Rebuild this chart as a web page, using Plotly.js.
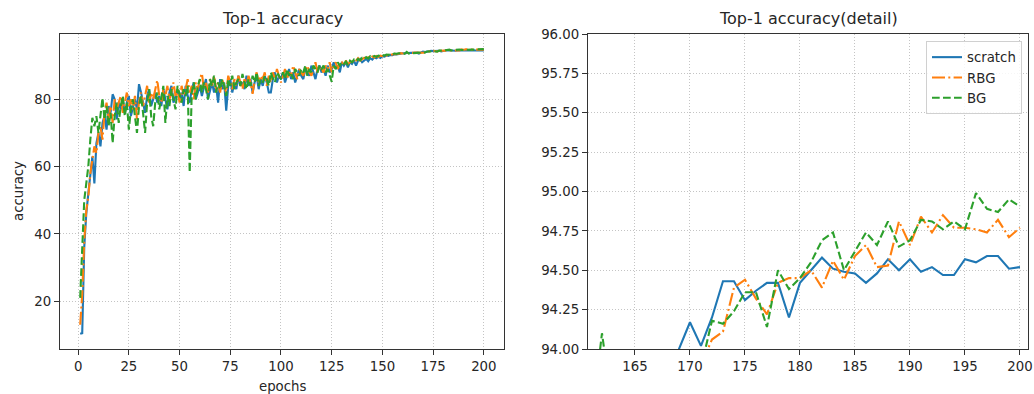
<!DOCTYPE html>
<html>
<head>
<meta charset="utf-8">
<script src="https://cdn.plot.ly/plotly-3.0.1.min.js"></script>
<style>html,body{margin:0;padding:0;background:#fff;}#chart{width:1034px;height:394px;}</style>
</head>
<body>
<div id="chart"></div>
<script>
// epochs 1..200
const epochs = Array.from({length: 200}, (_, i) => i + 1);

const scratch = [
  10.3, 10.5, 36, 46, 52, 58, 63, 55, 67, 70,
  66, 73, 75, 71, 78, 76, 81.5, 80, 74, 79,
  77, 80, 76, 79, 81, 75, 78, 80, 77, 84.5,
  82, 79, 76, 81, 83, 78, 80, 82, 79, 81,
  78, 83, 80, 77, 82, 84, 79, 81, 83, 80,
  82, 78, 84, 81, 79, 83, 85, 80, 82, 84,
  81, 84, 86, 80, 83, 85, 82, 84, 79, 86,
  83, 85, 76.6, 84, 86, 82, 85, 83, 87, 84,
  85, 83, 87, 84, 86, 82, 85, 87, 83, 86,
  84, 87, 85, 82, 82, 86, 88, 85, 87, 86,
  88, 85, 87, 89, 86, 88, 85, 87, 89, 87,
  86, 89, 88, 87, 90, 88, 86, 89, 90, 88,
  89, 87, 90, 88, 89, 91, 89, 90, 88, 91,
  90, 91, 89.5, 91, 90.5, 91.5, 90, 91.5, 92, 91,
  91.5, 92, 91.3, 92.2, 91.8, 92.5, 92.2, 92.6, 92.3, 92.8,
  92.7, 93, 92.9, 93.2, 93.1, 93.4, 93.3, 93.5, 93.5, 93.7,
  93.7, 93.8, 93.75, 93.85, 93.8, 93.9, 93.85, 93.6, 94.0, 94.17,
  94.02, 94.2, 94.43, 94.43, 94.31, 94.37, 94.42, 94.42, 94.2, 94.42,
  94.5, 94.58, 94.51, 94.49, 94.48, 94.42, 94.48, 94.57, 94.5, 94.57,
  94.49, 94.52, 94.47, 94.47, 94.57, 94.55, 94.59, 94.59, 94.51, 94.52
];

const rbg = [
  13, 22, 38, 47, 51, 58, 62, 66, 64, 70,
  72, 68, 76, 79, 74, 78, 73, 80, 77, 79,
  81, 76, 79, 82, 78, 80, 77, 81, 74, 79,
  82, 78, 81, 84, 79, 82, 80, 83, 85.7, 81,
  79, 83, 81, 84, 80, 82, 85, 81, 83, 79,
  84, 81, 83, 86, 82, 84, 80, 85, 83, 86,
  87.7, 83, 85, 82, 86, 84, 87, 83, 85, 82,
  86, 84, 82, 87, 85, 83, 86, 84, 87, 85,
  83, 86, 84, 87, 85, 81.6, 86, 88, 85, 87,
  86, 88, 84, 87, 85, 88, 86, 89, 87, 85,
  87, 89, 86, 88, 87, 90, 88, 86, 89, 88,
  87, 89, 90, 88, 87, 89, 91, 88, 90, 89,
  88, 90, 89, 91, 88, 90, 91, 89, 90.5, 91,
  90, 91.5, 90.5, 91, 92, 90.8, 91.6, 92.2, 91.5, 92,
  92.3, 91.8, 92.5, 92.2, 92.7, 92.4, 92.9, 92.6, 93, 92.8,
  93.1, 93, 93.3, 93.2, 93.4, 93.5, 93.4, 93.6, 93.7, 93.6,
  93.8, 93.75, 93.7, 93.85, 93.8, 93.9, 93.85, 93.8, 93.9, 93.85,
  93.9, 94.06, 94.11, 94.39, 94.44, 94.32, 94.22, 94.42, 94.45, 94.45,
  94.5, 94.39, 94.56, 94.44, 94.59, 94.66, 94.52, 94.53, 94.81, 94.66,
  94.84, 94.74, 94.85, 94.77, 94.77, 94.76, 94.74, 94.82, 94.71, 94.77
];

const bg = [
  21, 35, 50, 55, 60, 68, 74.5, 72, 75, 70,
  76, 80.4, 74, 78, 72, 76, 67, 75, 79, 73,
  78, 81, 75, 79, 71, 77, 80, 74, 70, 78,
  81, 76, 70, 79, 83, 75, 72, 79, 82, 77,
  80, 84, 73, 81, 78, 83, 80, 77, 84, 81,
  79, 83, 81, 84, 58.3, 82, 85, 80, 84, 86,
  82, 85, 83, 80, 86, 84, 87, 82, 85, 83,
  86, 84, 81, 86, 84, 87, 83, 85, 86, 84,
  87.5, 85, 83, 86, 84, 87, 85, 88, 84, 86,
  85, 87, 86, 84, 88, 86, 85, 88, 87, 86,
  88, 86, 89, 87, 88, 86, 89, 88, 87, 89,
  88, 90, 87, 89, 88, 90, 89, 88, 90, 89,
  90, 88, 89, 87, 85.2, 90, 89, 91, 90, 91,
  90.5, 91.2, 90.2, 91.5, 91, 91.8, 91.3, 92, 91.6, 92.3,
  91.9, 92.5, 92.1, 92.8, 92.4, 92.9, 92.6, 93, 92.8, 93.2,
  93, 93.3, 93.2, 93.5, 93.4, 93.6, 93.5, 93.7, 93.8, 93.7,
  93.5, 94.1, 93.6, 93.8, 93.7, 93.85, 93.8, 93.9, 93.75, 93.85,
  93.88, 94.18, 94.16, 94.24, 94.36, 94.36, 94.14, 94.5, 94.38, 94.45,
  94.55, 94.69, 94.74, 94.5, 94.62, 94.74, 94.66, 94.81, 94.65, 94.69,
  94.82, 94.81, 94.76, 94.81, 94.76, 94.99, 94.89, 94.87, 94.95, 94.905
];

const seriesNames = ["scratch", "RBG", "BG"];
const seriesData = [scratch, rbg, bg];
const seriesColors = ["#1f77b4", "#ff7f0e", "#2ca02c"];
const seriesDash = ["solid", "13px,3.3px,2px,3.3px", "7.7px,3.3px"];

const traces = [];
for (let s = 0; s < 3; s++) {
  for (let p = 0; p < 2; p++) {
    traces.push({
      x: epochs, y: seriesData[s], type: "scatter", mode: "lines",
      name: seriesNames[s], legendgroup: seriesNames[s],
      showlegend: p === 1,
      xaxis: p === 0 ? "x" : "x2", yaxis: p === 0 ? "y" : "y2",
      line: {color: seriesColors[s], width: 2.1, dash: seriesDash[s]},
      hoverinfo: "skip"
    });
  }
}

const W = 1034, H = 394;
const font = {family: "DejaVu Sans, sans-serif", size: 13.3, color: "#262626"};
const axisCommon = {
  showline: true, mirror: true, linecolor: "#333", linewidth: 1.1,
  ticks: "outside", ticklen: 5, tickwidth: 1, tickcolor: "#333",
  showgrid: true, gridcolor: "#c4c4c4", gridwidth: 1, griddash: "1px,2px",
  zeroline: false, tickfont: font
};

const yTop = 1 - 34 / H, yBot = 1 - 349 / H;

const layout = {
  width: W, height: H,
  margin: {l: 0, r: 0, t: 0, b: 0},
  paper_bgcolor: "#fff", plot_bgcolor: "#fff",
  font: font,
  showlegend: true,
  legend: {
    x: 1022 / W, xanchor: "right", y: 1 - 41 / H, yanchor: "top",
    bgcolor: "rgba(255,255,255,0.85)", bordercolor: "#d0d0d0", borderwidth: 1,
    font: font, itemwidth: 30, tracegroupgap: 0
  },
  xaxis: Object.assign({}, axisCommon, {domain: [60 / W, 504 / W], range: [-8.95, 209.95], dtick: 25, tick0: 0, anchor: "y"}),
  yaxis: Object.assign({}, axisCommon, {domain: [yBot, yTop], range: [5.8, 99.4], dtick: 20, tick0: 0, anchor: "x"}),
  xaxis2: Object.assign({}, axisCommon, {domain: [588 / W, 1028 / W], range: [160.73, 200.73], dtick: 5, tick0: 0, anchor: "y2"}),
  yaxis2: Object.assign({}, axisCommon, {domain: [yBot, yTop], range: [94, 96], dtick: 0.25, tick0: 94, tickformat: ".2f", anchor: "x2"}),
  annotations: [
    {text: "Top-1 accuracy", x: 282 / W, y: 1 - 18 / H, xref: "paper", yref: "paper", showarrow: false, xanchor: "center", yanchor: "middle", font: {family: font.family, size: 16, color: "#262626"}},
    {text: "Top-1 accuracy(detail)", x: 808 / W, y: 1 - 18 / H, xref: "paper", yref: "paper", showarrow: false, xanchor: "center", yanchor: "middle", font: {family: font.family, size: 16, color: "#262626"}},
    {text: "epochs", x: 282 / W, y: 1 - 386 / H, xref: "paper", yref: "paper", showarrow: false, xanchor: "center", yanchor: "middle", font: font},
    {text: "accuracy", x: 18 / W, y: 1 - 191 / H, xref: "paper", yref: "paper", showarrow: false, xanchor: "center", yanchor: "middle", textangle: -90, font: font}
  ]
};

Plotly.newPlot("chart", traces, layout, {staticPlot: true, displayModeBar: false});
</script>
</body>
</html>
